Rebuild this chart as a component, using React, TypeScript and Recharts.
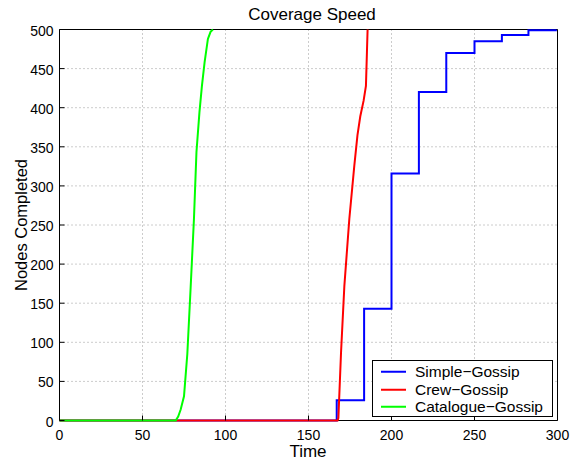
import React from 'react';
import { LineChart, Line, XAxis, YAxis, CartesianGrid, Legend } from 'recharts';

const FONT = '"Liberation Sans", Arial, Helvetica, sans-serif';

const xTicks = [0, 50, 100, 150, 200, 250, 300];
const yTicks = [0, 50, 100, 150, 200, 250, 300, 350, 400, 450, 500];

const simpleGossip = [
  { x: 0, y: 0 },
  { x: 167, y: 26 },
  { x: 183.5, y: 143 },
  { x: 200, y: 316 },
  { x: 216.5, y: 420 },
  { x: 233, y: 470 },
  { x: 250, y: 485 },
  { x: 266.5, y: 493 },
  { x: 282.5, y: 499 },
  { x: 299, y: 500 },
];

const crewGossip = [
  { x: 0, y: 0 },
  { x: 167.5, y: 0 },
  { x: 168, y: 3 },
  { x: 169.6, y: 87 },
  { x: 171.6, y: 172 },
  { x: 174.6, y: 258 },
  { x: 177.6, y: 326 },
  { x: 179.5, y: 365 },
  { x: 181.2, y: 389 },
  { x: 183.2, y: 409 },
  { x: 184.6, y: 428 },
  { x: 185.2, y: 471 },
  { x: 185.6, y: 500 },
];

const catalogueGossip = [
  { x: 0, y: 0 },
  { x: 70, y: 0 },
  { x: 71.5, y: 5 },
  { x: 73, y: 14 },
  { x: 75, y: 31 },
  { x: 77, y: 85 },
  { x: 79, y: 170 },
  { x: 81, y: 258 },
  { x: 82.5, y: 343 },
  { x: 84.3, y: 394 },
  { x: 85.8, y: 428 },
  { x: 87.4, y: 458 },
  { x: 89.4, y: 488 },
  { x: 91, y: 497 },
  { x: 92.4, y: 500 },
];

const seriesNames = ['Simple\u2212Gossip', 'Crew\u2212Gossip', 'Catalogue\u2212Gossip'];
const seriesColors = ['#0000ff', '#ff0000', '#00ff00'];

const BottomTick = (props: any) => {
  const { x, y, payload } = props;
  return (
    <g>
      <line x1={x} y1={y} x2={x} y2={y - 5} stroke="#000" strokeWidth={1} />
      <text x={x} y={y + 19.5} textAnchor="middle" fontSize={14} fontFamily={FONT} fill="#000">
        {payload.value}
      </text>
    </g>
  );
};

const LeftTick = (props: any) => {
  const { x, y, payload } = props;
  return (
    <g>
      <line x1={x} y1={y} x2={x + 5} y2={y} stroke="#000" strokeWidth={1} />
      <text x={x - 6} y={y + 6} textAnchor="end" fontSize={14} fontFamily={FONT} fill="#000">
        {payload.value}
      </text>
    </g>
  );
};

const TopTick = (props: any) => {
  const { x, y } = props;
  return <line x1={x} y1={y} x2={x} y2={y + 5} stroke="#000" strokeWidth={1} />;
};

const RightTick = (props: any) => {
  const { x, y } = props;
  return <line x1={x} y1={y} x2={x - 5} y2={y} stroke="#000" strokeWidth={1} />;
};

const LegendBox = () => (
  <div
    style={{
      border: '1px solid #000',
      background: '#fff',
      width: 181,
      height: 57,
      boxSizing: 'border-box',
      paddingTop: 2,
      fontFamily: FONT,
      fontSize: 15.5,
      color: '#000',
    }}
  >
    {seriesNames.map((n, i) => (
      <div key={n} style={{ display: 'flex', alignItems: 'center', height: 17.5, lineHeight: '17.5px' }}>
        <svg width={42} height={17.5} style={{ display: 'block' }}>
          <line x1={8} y1={8.75} x2={33} y2={8.75} stroke={seriesColors[i]} strokeWidth={2} />
        </svg>
        <span style={{ whiteSpace: 'nowrap' }}>{n}</span>
      </div>
    ))}
  </div>
);

export default function App() {
  const lineProps: any = { zIndex: 900 };
  return (
    <div style={{ position: 'absolute', left: 0, top: 0, width: 581, height: 459, background: '#fff' }}>
      <LineChart
        width={581}
        height={459}
        margin={{ top: 28.5, right: 22.5, bottom: 0, left: 0 }}
        style={{ fontFamily: FONT }}
      >
        <CartesianGrid stroke="#999" strokeDasharray="1 3" verticalValues={xTicks} horizontalValues={yTicks} />
        <XAxis
          xAxisId={0}
          dataKey="x"
          type="number"
          domain={[0, 300]}
          ticks={xTicks}
          height={38.5}
          tickSize={0}
          tickMargin={0}
          tickLine={false}
          axisLine={{ stroke: '#000' }}
          tick={<BottomTick />}
          label={{
            content: (p: any) => {
              const vb = p.viewBox || {};
              return (
                <text x={vb.x + vb.width / 2 - 0.5} y={vb.y + 36} textAnchor="middle" fontSize={17} fontFamily={FONT} fill="#000">
                  Time
                </text>
              );
            },
          }}
        />
        <XAxis
          xAxisId="top"
          orientation="top"
          dataKey="x"
          type="number"
          domain={[0, 300]}
          ticks={xTicks}
          height={1}
          tickSize={0}
          tickMargin={0}
          tickLine={false}
          axisLine={{ stroke: '#000' }}
          tick={<TopTick />}
        />
        <YAxis
          yAxisId={0}
          type="number"
          domain={[0, 500]}
          ticks={yTicks}
          width={59.5}
          tickSize={0}
          tickMargin={0}
          tickLine={false}
          axisLine={{ stroke: '#000' }}
          tick={<LeftTick />}
          label={{
            content: (p: any) => {
              const vb = p.viewBox || {};
              const cy = vb.y + vb.height / 2;
              const cx = 26.5;
              return (
                <text
                  x={cx}
                  y={cy}
                  transform={`rotate(-90 ${cx} ${cy})`}
                  textAnchor="middle"
                  fontSize={16.5}
                  fontFamily={FONT}
                  fill="#000"
                >
                  Nodes Completed
                </text>
              );
            },
          }}
        />
        <YAxis
          yAxisId="right"
          orientation="right"
          type="number"
          domain={[0, 500]}
          ticks={yTicks}
          width={1}
          tickSize={0}
          tickMargin={0}
          tickLine={false}
          axisLine={{ stroke: '#000' }}
          tick={<RightTick />}
        />
        <Legend
          layout="vertical"
          align="center"
          verticalAlign="middle"
          content={<LegendBox />}
          wrapperStyle={{ position: 'absolute', left: 372, top: 360, width: 181, height: 57 }}
        />
        <Line
          {...lineProps}
          data={simpleGossip}
          dataKey="y"
          name={seriesNames[0]}
          type="stepAfter"
          stroke={seriesColors[0]}
          strokeWidth={2}
          dot={false}
          activeDot={false}
          isAnimationActive={false}
        />
        <Line
          {...lineProps}
          data={crewGossip}
          dataKey="y"
          name={seriesNames[1]}
          type="linear"
          stroke={seriesColors[1]}
          strokeWidth={2}
          dot={false}
          activeDot={false}
          isAnimationActive={false}
        />
        <Line
          {...lineProps}
          data={catalogueGossip}
          dataKey="y"
          name={seriesNames[2]}
          type="linear"
          stroke={seriesColors[2]}
          strokeWidth={2}
          dot={false}
          activeDot={false}
          isAnimationActive={false}
        />
      </LineChart>
      <svg width={581} height={28} style={{ position: 'absolute', left: 0, top: 0, pointerEvents: 'none' }}>
        <text x={312} y={19.5} textAnchor="middle" fontSize={17} fontFamily={FONT} fill="#000">
          Coverage Speed
        </text>
      </svg>
    </div>
  );
}
